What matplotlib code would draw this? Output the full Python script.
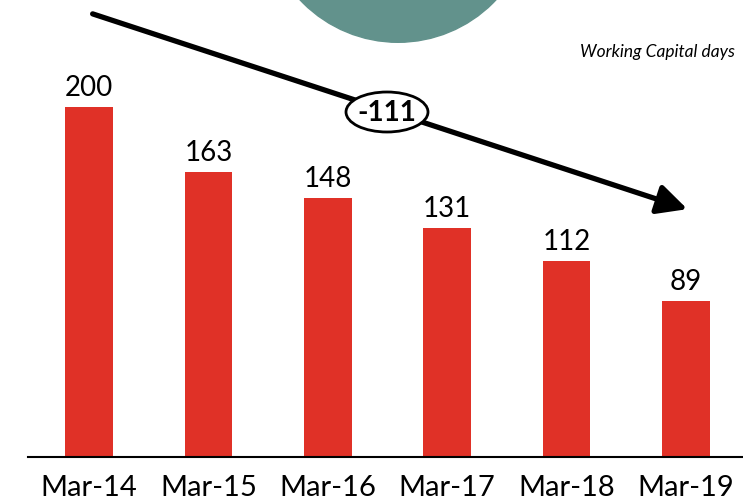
import matplotlib
matplotlib.use("Agg")
import matplotlib.pyplot as plt
from matplotlib.patches import Ellipse, FancyArrowPatch

categories = ["Mar-14", "Mar-15", "Mar-16", "Mar-17", "Mar-18", "Mar-19"]
values = [200, 163, 148, 131, 112, 89]
change_label = "-111"
note = "Working Capital days"

W, H = 743, 502
fig = plt.figure(figsize=(W / 100, H / 100), dpi=100)
plt.rcParams['font.family'] = ['Lato', 'DejaVu Sans']

base_px = 44  # baseline from bottom in px
ax = fig.add_axes([0, base_px / H, 1, 1 - base_px / H])
x = list(range(len(categories)))
ax.bar(x, values, width=0.40, color="#E03127", zorder=2)
spacing = 119.4
ax.set_xlim(-89 / spacing, (W - 89) / spacing)
ax.set_ylim(0, (H - base_px) / 1.75)
for s in ax.spines.values():
    s.set_visible(False)
ax.axhline(0, xmin=28 / W, xmax=1, color="black", lw=1.5, clip_on=False, zorder=3)
ax.set_yticks([])
ax.set_xticks(x)
ax.set_xticklabels(categories, fontsize=21)
ax.tick_params(axis='x', length=0, pad=12)
for xi, v in zip(x, values):
    ax.annotate(str(v), (xi, v), xytext=(0, 5), textcoords="offset points",
                ha="center", va="bottom", fontsize=20)

def fx(px):
    return px / W
def fy(py):
    return 1 - py / H

circ = Ellipse((fx(398), fy(-91)), 2 * 134.3 / W, 2 * 134.3 / H,
               transform=fig.transFigure, color="#62928C", zorder=0)
fig.patches.append(circ)

arrow = FancyArrowPatch((fx(90), fy(14)), (fx(690), fy(211)),
                        transform=fig.transFigure,
                        arrowstyle="-|>,head_length=1.0,head_width=0.5",
                        mutation_scale=18, lw=3.8, color="black", zorder=5)
fig.patches.append(arrow)

ell = Ellipse((fx(387), fy(113)), 82 / W, 40 / H, transform=fig.transFigure,
              facecolor="white", edgecolor="black", lw=2, zorder=6)
fig.patches.append(ell)
fig.text(fx(387), fy(113), change_label, ha="center", va="center",
         fontsize=20, fontweight="bold", zorder=7)

fig.text(fx(735), fy(52), note, ha="right", va="center", fontsize=12.5,
         style="italic")

fig.savefig("out.png", dpi=100)
